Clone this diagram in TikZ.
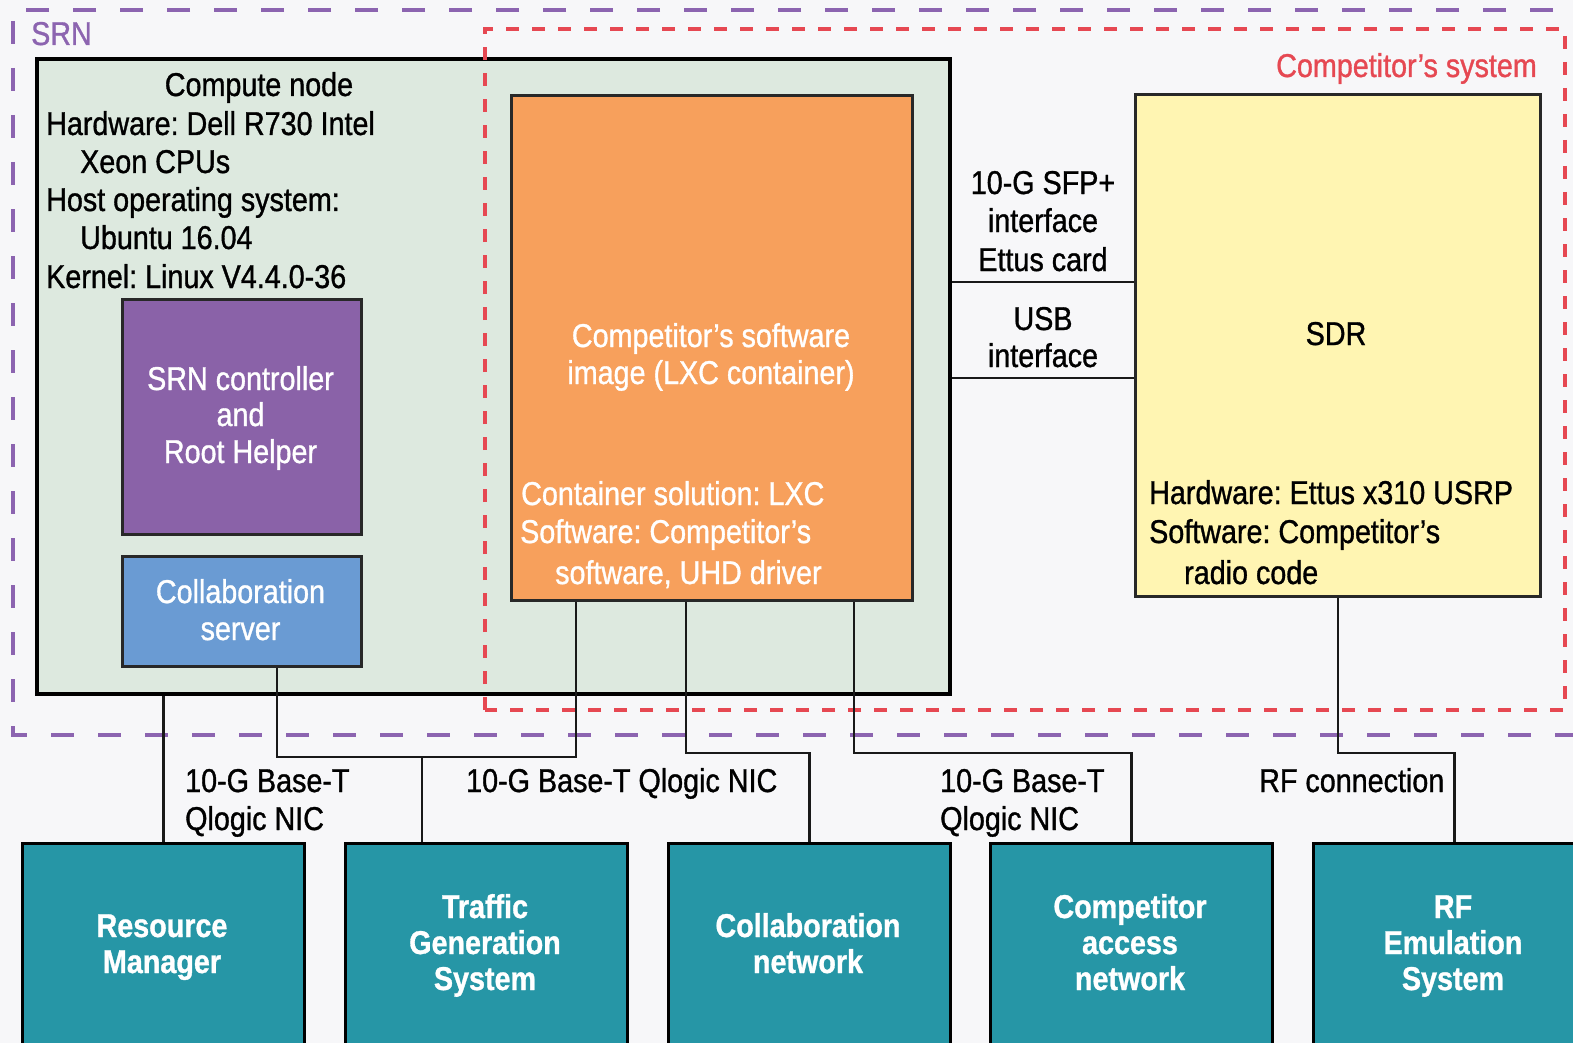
\documentclass[tikz,border=0pt]{standalone}
\usepackage{fontspec}
\setmainfont{Liberation Sans}[FakeStretch=0.87, FakeBold=1]
\definecolor{bgc}{RGB}{247,247,249}
\definecolor{cgreen}{RGB}{221,233,223}
\definecolor{orng}{RGB}{247,160,92}
\definecolor{purpbox}{RGB}{138,98,168}
\definecolor{blubox}{RGB}{106,155,211}
\definecolor{yelbox}{RGB}{255,245,178}
\definecolor{tealbox}{RGB}{38,150,166}
\definecolor{srnc}{RGB}{140,100,176}
\definecolor{redc}{RGB}{230,72,82}
\definecolor{edgec}{RGB}{40,40,40}
\begin{document}
\frenchspacing
\begin{tikzpicture}[x=1pt,y=-1pt,
  font=\fontsize{33}{38}\selectfont,
  txt/.style={inner sep=0pt, anchor=base west},
  ctxt/.style={inner sep=0pt, anchor=base},
  wtxt/.style={ctxt, text=white},
  btxt/.style={ctxt, text=white, font=\fontsize{33}{38}\selectfont\bfseries},
  blk/.style={draw=edgec, line width=3pt, anchor=north west, inner sep=0pt},
  bot/.style={draw=black, line width=3pt, fill=tealbox, anchor=north west, inner sep=0pt, minimum width=282, minimum height=240},
  conn/.style={draw=black!90, line width=2.5pt},
  srnframe/.style={draw=srnc, line width=4pt, dash pattern=on 23pt off 24pt},
  compframe/.style={draw=redc, line width=4.5pt, dash pattern=on 13pt off 13pt}]
\useasboundingbox (0,0) rectangle (1573,1043);
\clip (0,0) rectangle (1573,1043);
\fill[bgc] (0,0) rectangle (1573,1043);

% SRN frame
\draw[srnframe] (1600,10) -- (13,10) -- (13,735) -- (1600,735);
\node[txt, text=srnc] (srnlabel) at (31,45) {SRN};

% compute node
\node[blk, draw=black, line width=4pt, fill=cgreen, minimum width=913, minimum height=635] (compute) at (35,57) {};
\node[ctxt] (cn0) at (259,96) {Compute node};
\node[txt] (cn1) at (46,135) {Hardware: Dell R730 Intel};
\node[txt] (cn2) at (80,173) {Xeon CPUs};
\node[txt] (cn3) at (46,211) {Host operating system:};
\node[txt] (cn4) at (80,249) {Ubuntu 16.04};
\node[txt] (cn5) at (46,288) {Kernel: Linux V4.4.0-36};

% SRN controller
\node[blk, fill=purpbox, minimum width=239, minimum height=235] (ctrl) at (121,298) {};
\node[wtxt] (ct1) at (240.5,390) {SRN controller};
\node[wtxt] (ct2) at (240.5,426) {and};
\node[wtxt] (ct3) at (240.5,463) {Root Helper};

% collaboration server
\node[blk, fill=blubox, minimum width=239, minimum height=110] (collab) at (121,555) {};
\node[wtxt] (cs1) at (240.5,603) {Collaboration};
\node[wtxt] (cs2) at (240.5,640) {server};

% competitor software image
\node[blk, fill=orng, minimum width=401, minimum height=505] (orange) at (510,94) {};
\node[wtxt] (or1) at (711,347) {Competitor’s software};
\node[wtxt] (or2) at (711,384) {image (LXC container)};
\node[txt, text=white] (or3) at (521,505) {Container solution: LXC};
\node[txt, text=white] (or4) at (520,543) {Software: Competitor’s};
\node[txt, text=white] (or5) at (555,584) {software, UHD driver};

% SDR
\node[blk, fill=yelbox, minimum width=405, minimum height=502] (sdr) at (1134,93) {};
\node[ctxt] (sd0) at (1336,345) {SDR};
\node[txt] (sd1) at (1149,504) {Hardware: Ettus x310 USRP};
\node[txt] (sd2) at (1149,543) {Software: Competitor’s};
\node[txt] (sd3) at (1184,584) {radio code};

% competitor's system frame
\draw[compframe] (485,710) -- (485,29) -- (1565,29) -- (1565,710) -- cycle;
\node[inner sep=0pt, anchor=base east, text=redc] (complabel) at (1537,77) {Competitor’s system};

% interfaces compute -- SDR
\coordinate (hA) at (0,282);
\coordinate (hB) at (0,378);
\draw[conn] (compute.east |- hA) -- (sdr.west |- hA);
\draw[conn] (compute.east |- hB) -- (sdr.west |- hB);
\node[ctxt] (if1) at (1043,194) {10-G SFP+};
\node[ctxt] (if2) at (1043,232) {interface};
\node[ctxt] (if3) at (1043,271) {Ettus card};
\node[ctxt] (if4) at (1043,330) {USB};
\node[ctxt] (if5) at (1043,367) {interface};

% bottom systems
\node[bot] (rm) at (21,842) {};
\node[bot] (tgs) at (344,842) {};
\node[bot] (cn) at (667,842) {};
\node[bot] (can) at (989,842) {};
\node[bot] (rf) at (1312,842) {};

\node[btxt] (rm1) at (162,937) {Resource};
\node[btxt] (rm2) at (162,973) {Manager};
\node[btxt] (tg1) at (485,918) {Traffic};
\node[btxt] (tg2) at (485,954) {Generation};
\node[btxt] (tg3) at (485,990) {System};
\node[btxt] (cw1) at (808,937) {Collaboration};
\node[btxt] (cw2) at (808,973) {network};
\node[btxt] (ca1) at (1130,918) {Competitor};
\node[btxt] (ca2) at (1130,954) {access};
\node[btxt] (ca3) at (1130,990) {network};
\node[btxt] (rf1) at (1453,918) {RF};
\node[btxt] (rf2) at (1453,954) {Emulation};
\node[btxt] (rf3) at (1453,990) {System};

% connectors to bottom systems
\coordinate (jA) at (277,757);
\coordinate (jB) at (576,757);
\coordinate (jC) at (422,757);
\coordinate (jD) at (686,753);
\coordinate (jE) at (854,753);
\coordinate (jF) at (0,753);
\draw[conn] (compute.south -| rm.north) -- (rm.north);
\draw[conn] (collab.south -| jA) -- (jA) -- (jB) -- (orange.south -| jB);
\draw[conn] (jC) -- (tgs.north -| jC);
\draw[conn] (orange.south -| jD) -- (jD) -| (cn.north);
\draw[conn] (orange.south -| jE) -- (jE) -| (can.north);
\draw[conn] (sdr.south) -- (sdr.south |- jF) -| (rf.north);

\node[txt] (nl1) at (185,792) {10-G Base-T};
\node[txt] (nl2) at (185,830) {Qlogic NIC};
\node[txt] (nl3) at (466,792) {10-G Base-T Qlogic NIC};
\node[txt] (nl4) at (940,792) {10-G Base-T};
\node[txt] (nl5) at (940,830) {Qlogic NIC};
\node[txt] (nl6) at (1259,792) {RF connection};
\end{tikzpicture}
\end{document}
